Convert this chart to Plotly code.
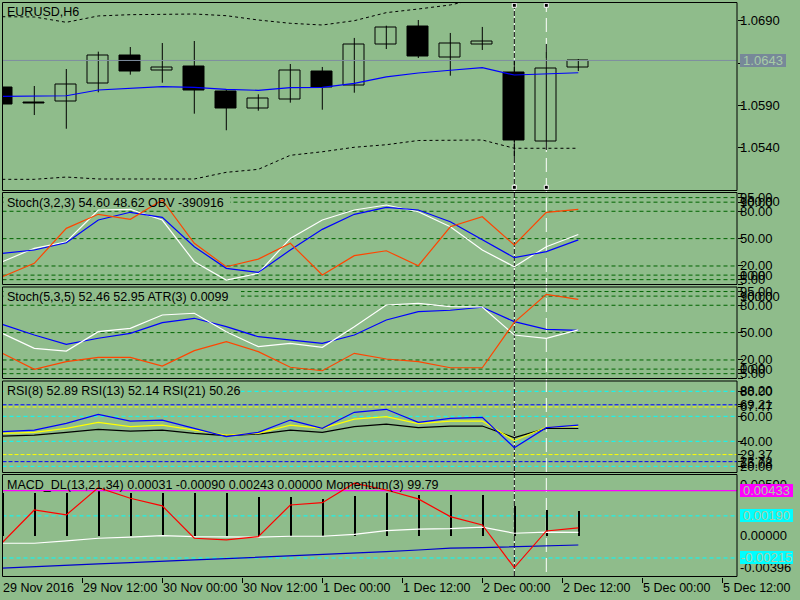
import plotly.graph_objects as go

# ---------------- data ----------------
bar_index = list(range(19))
opens  = [1.06113, 1.05935, 1.05947, 1.06160, 1.06483, 1.06314, 1.06353, 1.06069, 1.05860, 1.05971,
          1.06294, 1.06132, 1.06621, 1.06837, 1.06467, 1.06621, 1.06282, 1.05474, 1.06349]
highs  = [1.06140, 1.06128, 1.06329, 1.06534, 1.06589, 1.06636, 1.06660, 1.06089, 1.06030, 1.06388,
          1.06353, 1.06696, 1.06841, 1.06908, 1.06755, 1.06826, 1.06435, 1.06625, 1.06447]
lows   = [1.05890, 1.05785, 1.05623, 1.06054, 1.06262, 1.06167, 1.05801, 1.05605, 1.05836, 1.05931,
          1.05848, 1.06049, 1.06565, 1.06459, 1.06250, 1.06554, 1.05277, 1.05372, 1.06305]
closes = [1.05915, 1.05927, 1.06148, 1.06491, 1.06297, 1.06349, 1.06073, 1.05860, 1.05983, 1.06314,
          1.06113, 1.06621, 1.06822, 1.06471, 1.06625, 1.06657, 1.05482, 1.06337, 1.06430]
ma_line = [1.06006, 1.06006, 1.06013, 1.06081, 1.06101, 1.06120, 1.06113, 1.06089, 1.06077, 1.06108,
           1.06113, 1.06160, 1.06235, 1.06282, 1.06314, 1.06344, 1.06258, 1.06270, 1.06285]
band_upper = [1.06947, 1.06944, 1.06881, 1.06956, 1.06971, 1.06979, 1.06979, 1.06959, 1.06908, 1.06869,
              1.06849, 1.06900, 1.06995, 1.07038, 1.07086, 1.07170, 1.07230, 1.07260, 1.07270]
band_lower = [1.05025, 1.05025, 1.05052, 1.05029, 1.05029, 1.05029, 1.05029, 1.05108, 1.05143, 1.05309,
              1.05351, 1.05404, 1.05434, 1.05484, 1.05490, 1.05490, 1.05392, 1.05392, 1.05392]

stoch1_main   = [24.7, 39.4, 46.6, 81.4, 82.0, 70.4, 24.7, 4.6, 12.0, 50.3, 70.4, 81.4, 86.9, 79.5, 63.0, 37.5, 19.2, 41.1, 54.60]
stoch1_signal = [33.9, 37.5, 45.5, 70.4, 78.9, 73.4, 41.1, 17.4, 13.0, 37.5, 60.2, 76.7, 84.3, 81.4, 68.6, 48.5, 29.1, 35.7, 48.62]
obv_scaled    = [8.2, 22.9, 61.3, 76.7, 71.2, 92.4, 44.9, 19.2, 27.6, 44.9, 10.1, 31.3, 36.7, 20.3, 63.0, 74.0, 43.0, 78.9, 82.2]

stoch2_main   = [59.1, 47.4, 37.2, 43.8, 49.2, 60.9, 65.7, 56.5, 45.5, 41.9, 38.3, 47.4, 63.8, 72.9, 74.5, 77.8, 62.0, 53.6, 52.46]
stoch2_signal = [49.2, 32.8, 29.8, 51.0, 54.7, 69.3, 71.2, 51.0, 34.6, 38.3, 33.9, 56.5, 80.3, 82.1, 78.4, 78.1, 47.4, 43.8, 52.95]
atr_scaled    = [27.3, 9.8, 18.1, 22.9, 22.9, 13.4, 30.2, 40.0, 29.1, 12.0, 8.2, 27.3, 21.1, 18.1, 11.5, 11.5, 61.3, 92.0, 86.5]

rsi8  = [47.7, 49.0, 54.4, 61.6, 56.2, 57.0, 50.4, 43.7, 47.2, 57.0, 50.4, 63.2, 65.6, 55.2, 58.4, 59.2, 34.9, 50.9, 52.89]
rsi13 = [46.4, 47.2, 50.4, 55.2, 51.7, 53.0, 49.0, 45.0, 46.4, 53.0, 50.4, 57.8, 59.7, 54.1, 56.2, 56.2, 40.5, 51.2, 52.14]
rsi21 = [44.2, 45.0, 47.2, 49.6, 48.2, 49.0, 46.4, 44.5, 45.8, 49.0, 47.2, 51.7, 53.8, 50.9, 52.2, 52.2, 42.9, 50.4, 50.26]

macd_hist = [0.00417, 0.00417, 0.00417, 0.00440, 0.00417, 0.00417, 0.00417, 0.00417, 0.00375, 0.00375,
             0.00353, 0.00382, 0.00411, 0.00398, 0.00398, 0.00391, 0.00288, 0.00247, 0.00243]
macd_main = [-0.00073, -0.00073, -0.00051, -0.00025, -0.00015, 0.00000, -0.00010, -0.00015, -0.00015, -0.00006,
             -0.00006, 0.00013, 0.00048, 0.00062, 0.00067, 0.00081, 0.00023, 0.00033, 0.00031]
macd_signal = [-0.00313, -0.00298, -0.00282, -0.00272, -0.00260, -0.00250, -0.00234, -0.00221, -0.00208, -0.00198,
               -0.00183, -0.00169, -0.00154, -0.00138, -0.00121, -0.00115, -0.00109, -0.00099, -0.00090]
momentum_scaled = [-0.00067, 0.00247, 0.00199, 0.00462, 0.00360, 0.00286, -0.00025, -0.00041, -0.00010, 0.00295,
                   0.00317, 0.00504, 0.00439, 0.00353, 0.00183, 0.00103, -0.00308, 0.00045, 0.00074]

time_labels = ["29 Nov 2016", "29 Nov 12:00", "30 Nov 00:00", "30 Nov 12:00", "1 Dec 00:00",
               "1 Dec 12:00", "2 Dec 00:00", "2 Dec 12:00", "5 Dec 00:00", "5 Dec 12:00"]
bars_per_time_label = 2.5

price_ticks = [1.0690, 1.0640, 1.0590, 1.0540]
price_labels = ["1.0690", "", "1.0590", "1.0540"]
stoch_levels = [95, 90, 80, 50, 20, 10, 5]
stoch_max_label, stoch_min_label = "100.00", "0.00"
rsi_cyan_levels = [80, 60, 40, 20]
rsi_blue_levels = [69.21, 23.72]
rsi_yellow_levels = [67.47, 29.37]
rsi_max_label, rsi_min_label = "88.20", "15.08"
macd_magenta_level = 0.00433
macd_cyan_levels = [0.00190, -0.00215]
macd_max_label, macd_min_label = "0.00590", "-0.00396"
vline_bars = [16, 17]

titles = ["EURUSD,H6",
          "Stoch(3,2,3) 54.60 48.62 OBV -390916",
          "Stoch(5,3,5) 52.46 52.95 ATR(3) 0.0099",
          "RSI(8) 52.89 RSI(13) 52.14 RSI(21) 50.26",
          "MACD_DL(13,21,34) 0.00031 -0.00090 0.00243 0.00000 Momentum(3) 99.79"]

# ---------------- layout geometry ----------------
W, H = 800, 600
BG = '#8FBC8B'
FONT = "Liberation Sans, Arial, sans-serif"
FS = 12.5
FS_AX = 13
BOXTXT = '#a8cca6'

X_LEFT, X_RIGHT = 2.5, 737.0
BAR0_PX, BAR_PX = 2.3, 32.0
x_range = [(X_LEFT - BAR0_PX) / BAR_PX, (X_RIGHT - BAR0_PX) / BAR_PX]

panels = [  # (top px, bottom px, range)
    (2.5, 190.5, [1.04893, 1.07115]),
    (192.5, 284.5, [-0.3, 100.6]),
    (287.0, 378.5, [-0.3, 100.0]),
    (381.0, 472.5, [15.04, 88.24]),
    (474.5, 576.5, [-0.00393, 0.00588]),
]
title_px = [12, 202.5, 296.7, 391, 485]

def fx(p):
    return p / W

def fy(p):
    return 1 - p / H

def bar_to_paper(b):
    return fx(BAR0_PX + b * BAR_PX)

fig = go.Figure()

def line(x, y, color, yaxis, width=1.2, dash=None):
    fig.add_trace(go.Scatter(x=x, y=y, mode='lines', xaxis='x', yaxis=yaxis, hoverinfo='skip',
                             line=dict(color=color, width=width, dash=dash)))

# ---------------- main panel ----------------
wx, wy = [], []
for i, lo, hi in zip(bar_index, lows, highs):
    wx += [i, i, None]
    wy += [lo, hi, None]
fig.add_trace(go.Scatter(x=wx, y=wy, mode='lines', xaxis='x', yaxis='y', hoverinfo='skip',
                         line=dict(color='black', width=1)))
for bull in (True, False):
    sel = [(i, o, c) for i, o, c in zip(bar_index, opens, closes) if (c >= o) == bull]
    fig.add_trace(go.Bar(x=[s[0] for s in sel], y=[abs(s[2] - s[1]) for s in sel],
                         base=[min(s[1], s[2]) for s in sel], width=0.66,
                         marker=dict(color=BG if bull else 'black', line=dict(color='black', width=1)),
                         xaxis='x', yaxis='y', hoverinfo='skip'))
line(x_range, [closes[-1]] * 2, '#7f8ea0', 'y', width=1)
line(bar_index, band_lower, 'black', 'y', width=1, dash='3px,3px')
line(bar_index, band_upper, 'black', 'y', width=1, dash='3px,3px')
line(bar_index, ma_line, '#0000FF', 'y')

# selection handles of the vertical lines
p1_top, p1_bot, (p1_lo, p1_hi) = panels[0]
def p1_val(py):
    return p1_hi - (py - p1_top) * (p1_hi - p1_lo) / (p1_bot - p1_top)
hx, hy = [], []
for b in vline_bars:
    hx += [b, b]
    hy += [p1_val(5.3), p1_val(187.3)]
fig.add_trace(go.Scatter(x=hx, y=hy, mode='markers', xaxis='x', yaxis='y', hoverinfo='skip',
                         marker=dict(symbol='square', size=4, color='black', line=dict(color='white', width=1))))

# ---------------- stochastic panels ----------------
line(bar_index, stoch1_main, 'white', 'y2')
line(bar_index, stoch1_signal, '#0000FF', 'y2')
line(bar_index, obv_scaled, '#FF4500', 'y2')
line(bar_index, stoch2_main, '#0000FF', 'y3')
line(bar_index, stoch2_signal, 'white', 'y3')
line(bar_index, atr_scaled, '#FF4500', 'y3')

# ---------------- RSI panel ----------------
line(bar_index, rsi21, 'black', 'y4')
line(bar_index, rsi13, '#FFFF00', 'y4')
line(bar_index, rsi8, '#0000FF', 'y4')

# ---------------- MACD panel ----------------
fig.add_trace(go.Bar(x=bar_index, y=macd_hist, width=0.035, marker=dict(color='black', line=dict(width=0)),
                     xaxis='x', yaxis='y5', hoverinfo='skip'))
line(x_range, [macd_magenta_level] * 2, '#FF00FF', 'y5', width=1.2)
line(bar_index, macd_main, 'white', 'y5')
line(bar_index, macd_signal, '#0000CD', 'y5')
line(bar_index, momentum_scaled, '#FF0000', 'y5')

# ---------------- shapes ----------------
shapes = []
def hlevel(yref, v, color, dash):
    shapes.append(dict(type='line', xref='paper', x0=fx(X_LEFT), x1=fx(X_RIGHT), yref=yref, y0=v, y1=v,
                       line=dict(color=color, width=1, dash=dash), layer='below'))

for yr in ('y2', 'y3'):
    for v in stoch_levels:
        hlevel(yr, v, '#006400', '4px,3px')
for v in rsi_cyan_levels:
    hlevel('y4', v, '#00FFFF', '4px,3px')
for v in rsi_blue_levels:
    hlevel('y4', v, '#0000FF', '4px,2px')
for v in rsi_yellow_levels:
    hlevel('y4', v, '#FFFF00', '4px,2px')
for v in macd_cyan_levels:
    hlevel('y5', v, '#00FFFF', '4px,3px')

# title backgrounds (hide the level lines behind the captions)
for (x1, y0, y1) in [(230, 195, 208.5), (241, 289.5, 303.5), (241, 385, 398.5)]:
    shapes.append(dict(type='rect', xref='paper', yref='paper', x0=fx(X_LEFT + 1), x1=fx(x1),
                       y0=fy(y1), y1=fy(y0), fillcolor=BG, line=dict(width=0), layer='below'))

# vertical lines
v_top, v_bot = fy(4), fy(576)
shapes.append(dict(type='line', xref='x', x0=vline_bars[0], x1=vline_bars[0], yref='paper', y0=v_bot, y1=v_top,
                   line=dict(color='white', width=1), layer='below'))
shapes.append(dict(type='line', xref='x', x0=vline_bars[0], x1=vline_bars[0], yref='paper', y0=v_bot, y1=v_top,
                   line=dict(color='black', width=1, dash='5px,2px'), layer='below'))
shapes.append(dict(type='line', xref='x', x0=vline_bars[1], x1=vline_bars[1], yref='paper', y0=fy(572), y1=v_top,
                   line=dict(color='white', width=1, dash='14px,6px'), layer='below'))

# panel frames
for top, bot, _ in panels:
    shapes.append(dict(type='rect', xref='paper', yref='paper', x0=fx(X_LEFT), x1=fx(X_RIGHT),
                       y0=fy(bot), y1=fy(top), line=dict(color='black', width=1),
                       fillcolor='rgba(0,0,0,0)', layer='above'))

# ---------------- annotations ----------------
anns = []
def rlabel(yref, v, text, anchor='middle'):
    anns.append(dict(xref='paper', x=fx(738), xanchor='left', yref=yref, y=v, yanchor=anchor,
                     text=text, showarrow=False, font=dict(family=FONT, size=FS_AX, color='black')))

def rbox(yref, v, text, bg, width):
    anns.append(dict(xref='paper', x=fx(740), xanchor='left', yref=yref, y=v, yanchor='middle',
                     text=text, showarrow=False, bgcolor=bg, width=width, height=13, align='center',
                     borderpad=0, borderwidth=0, font=dict(family=FONT, size=FS_AX, color=BOXTXT)))

for v, t in zip(price_ticks, price_labels):
    if t:
        rlabel('y', v, t)
rbox('y', closes[-1], f"{closes[-1]:.4f}", '#778899', 46)

for k, yr in ((1, 'y2'), (2, 'y3')):
    lo, hi = panels[k][2]
    rlabel(yr, hi, stoch_max_label, 'top')
    for v in stoch_levels:
        rlabel(yr, v, f"{v:.2f}")
    rlabel(yr, lo, stoch_min_label, 'bottom')

lo, hi = panels[3][2]
rlabel('y4', hi, rsi_max_label, 'top')
for v in rsi_cyan_levels + rsi_blue_levels + rsi_yellow_levels:
    rlabel('y4', v, f"{v:.2f}")
rlabel('y4', lo, rsi_min_label, 'bottom')

lo, hi = panels[4][2]
rlabel('y5', hi, macd_max_label, 'top')
rlabel('y5', 0, "0.00000")
rlabel('y5', lo, macd_min_label, 'bottom')
rbox('y5', macd_magenta_level, f"{macd_magenta_level:.5f}", '#FF00FF', 53)
for v in macd_cyan_levels:
    rbox('y5', v, f"{v:.5f}", '#00FFFF', 53)

for t, py in zip(titles, title_px):
    anns.append(dict(xref='paper', x=fx(5), xanchor='left', yref='paper', y=fy(py), yanchor='middle',
                     text=t, showarrow=False, font=dict(family=FONT, size=FS, color='black')))

time_tick_vals = [k * bars_per_time_label for k in range(len(time_labels))]
for v, t in zip(time_tick_vals, time_labels):
    anns.append(dict(xref='paper', x=bar_to_paper(v), xanchor='left', xshift=-1, yref='paper', y=fy(587.5),
                     yanchor='middle', text=t, showarrow=False, font=dict(family=FONT, size=FS, color='black')))

# ---------------- axes ----------------
layout = dict(width=W, height=H, margin=dict(l=0, r=0, t=0, b=0), paper_bgcolor=BG, plot_bgcolor=BG,
              showlegend=False, barmode='overlay', bargap=0, shapes=shapes, annotations=anns,
              xaxis=dict(domain=[fx(X_LEFT), fx(X_RIGHT)], range=x_range, anchor='y5', showgrid=False,
                         zeroline=False, showline=False, ticks='outside', ticklen=5, tickwidth=1,
                         tickcolor='black', tickvals=time_tick_vals, showticklabels=False, fixedrange=True))

tickvals_by_panel = [
    price_ticks,
    [100] + stoch_levels + [0],
    [100] + stoch_levels + [0],
    rsi_cyan_levels + rsi_blue_levels + rsi_yellow_levels,
    [],
]
for k, (top, bot, rng) in enumerate(panels):
    name = 'yaxis' if k == 0 else f'yaxis{k + 1}'
    layout[name] = dict(domain=[fy(bot), fy(top)], range=rng, anchor='x', side='right', showgrid=False,
                        zeroline=False, showline=False, ticks='outside', ticklen=5, tickwidth=1,
                        tickcolor='black', tickvals=tickvals_by_panel[k], showticklabels=False,
                        fixedrange=True)

fig.update_layout(**layout)
fig.write_html("out.html", config={'displayModeBar': False},
               post_script="document.body.style.margin='0';document.body.style.overflow='hidden';")
